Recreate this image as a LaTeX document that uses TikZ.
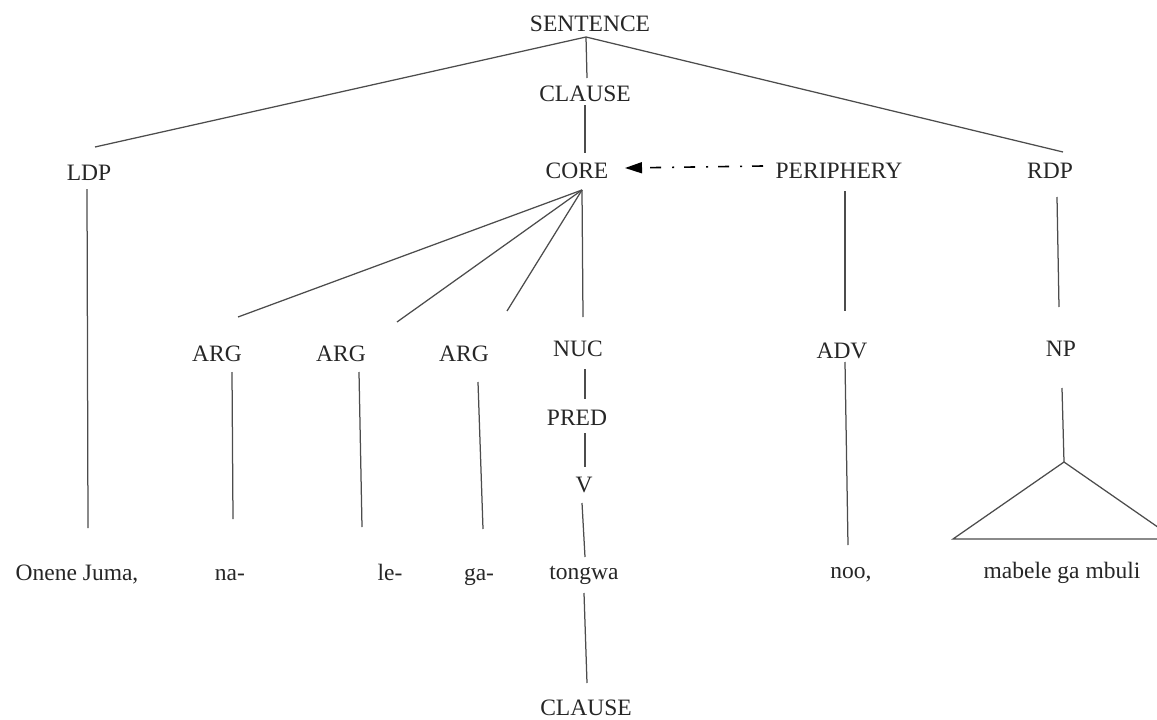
\documentclass[tikz,border=0pt]{standalone}
\usepackage{fontspec}
\setmainfont{Liberation Serif}
\usetikzlibrary{arrows.meta}
\begin{document}
\begin{tikzpicture}[x=1pt,y=-1pt,
  lbl/.style={anchor=base, inner sep=0pt, font=\fontsize{23.5}{28}\selectfont, text=black!85},
  edge/.style={draw=black!70, line width=1.25pt},
  linkarrow/.style={draw=black, line width=1.6pt, dash pattern=on 11pt off 10pt on 2pt off 11pt,
    -{Triangle[length=17pt,width=11pt]}},
]
\useasboundingbox (0,0) rectangle (1157,720);
\clip (0,0) rectangle (1157,720);

% ---- labels (placed on their baselines) ----
\node[lbl] (sentence) at (590,31)  {SENTENCE};
\node[lbl] (clause)   at (585,101) {CLAUSE};
\node[lbl] (ldp)      at (89,180)  {LDP};
\node[lbl] (core)     at (577,178) {CORE};
\node[lbl] (periph)   at (839,178) {PERIPHERY};
\node[lbl] (rdp)      at (1050,178){RDP};
\node[lbl] (argA)     at (217,361) {ARG};
\node[lbl] (argB)     at (341,361) {ARG};
\node[lbl] (argC)     at (464,361) {ARG};
\node[lbl] (nuc)      at (578,356) {NUC};
\node[lbl] (adv)      at (842,358) {ADV};
\node[lbl] (np)       at (1061,356){NP};
\node[lbl] (pred)     at (577,425) {PRED};
\node[lbl] (verb)     at (584,492) {V};
\node[lbl] (onene)    at (77,580)  {Onene Juma,};
\node[lbl] (na)       at (230,580) {na-};
\node[lbl] (le)       at (390,580) {le-};
\node[lbl] (ga)       at (479,580) {ga-};
\node[lbl] (tongwa)   at (584,579) {tongwa};
\node[lbl] (noo)      at (851,578) {noo,};
\node[lbl] (mabele)   at (1062,578){mabele ga mbuli};
\node[lbl] (clauseB)  at (586,715) {CLAUSE};

% ---- branch end points ----
\coordinate (sFoot)   at (586,37);
\coordinate (ldpHead) at (95,147);
\coordinate (rdpHead) at (1063,152);
\coordinate (clHead)  at (587,78);
\coordinate (clFoot)  at (585,105);
\coordinate (coHead)  at (585,153);
\coordinate (coFoot)  at (582,190);
\coordinate (aHead)   at (238,317);
\coordinate (bHead)   at (397,322);
\coordinate (cHead)   at (507,311);
\coordinate (nHead)   at (583,317);
\coordinate (ldpFoot) at (87,189);
\coordinate (onHead)  at (88,528);
\coordinate (aFoot)   at (232,372);
\coordinate (naHead)  at (233,519);
\coordinate (bFoot)   at (359,372);
\coordinate (leHead)  at (362,527);
\coordinate (cFoot)   at (478,382);
\coordinate (gaHead)  at (483,529);
\coordinate (nFoot)   at (585,369);
\coordinate (pHead)   at (585,399);
\coordinate (pFoot)   at (585,433);
\coordinate (vHead)   at (585,467);
\coordinate (vFoot)   at (582,503);
\coordinate (tHead)   at (585,557);
\coordinate (tFoot)   at (584,593);
\coordinate (cbHead)  at (587,683);
\coordinate (peFoot)  at (845,191);
\coordinate (advHead) at (845,311);
\coordinate (advFoot) at (845,362);
\coordinate (nooHead) at (848,545);
\coordinate (rdpFoot) at (1057,197);
\coordinate (npHead)  at (1059,307);
\coordinate (npFoot)  at (1062,388);
\coordinate (apex)    at (1064,462);
\coordinate (baseL)   at (953,539);
\coordinate (baseR)   at (1175,539);
\coordinate (arrTail) at (763,166);
\coordinate (arrTip)  at (625,168);

% ---- tree branches ----
\draw[edge] (sFoot) -- (ldpHead);
\draw[edge] (sFoot) -- (rdpHead);
\draw[edge] (sFoot) -- (clHead);
\draw[edge] (clFoot) -- (coHead);
\draw[edge] (coFoot) -- (aHead);
\draw[edge] (coFoot) -- (bHead);
\draw[edge] (coFoot) -- (cHead);
\draw[edge] (coFoot) -- (nHead);
\draw[edge] (ldpFoot) -- (onHead);
\draw[edge] (aFoot) -- (naHead);
\draw[edge] (bFoot) -- (leHead);
\draw[edge] (cFoot) -- (gaHead);
\draw[edge] (nFoot) -- (pHead);
\draw[edge] (pFoot) -- (vHead);
\draw[edge] (vFoot) -- (tHead);
\draw[edge] (tFoot) -- (cbHead);
\draw[edge] (peFoot) -- (advHead);
\draw[edge] (advFoot) -- (nooHead);
\draw[edge] (rdpFoot) -- (npHead);
\draw[edge] (npFoot) -- (apex);
\draw[edge] (apex) -- (baseL) -- (baseR) -- cycle;

% ---- periphery modifies core ----
\draw[linkarrow] (arrTail) -- (arrTip);
\end{tikzpicture}
\end{document}
